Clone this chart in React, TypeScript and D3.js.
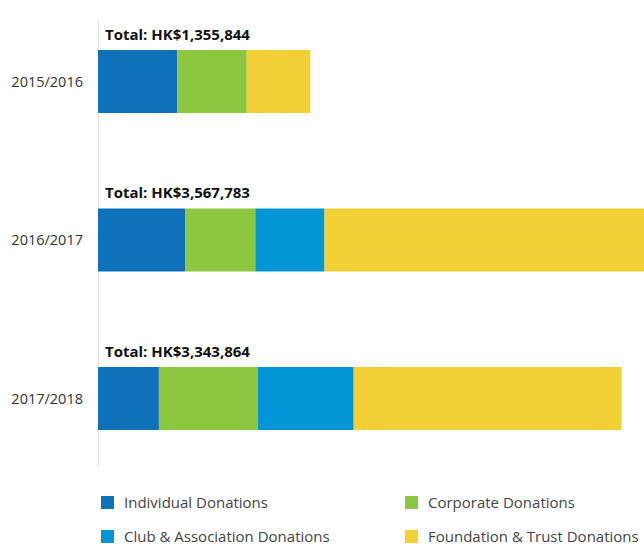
import React from 'react';
import * as d3 from 'd3';

// values (HK$)
const years = ['2015/2016', '2016/2017', '2017/2018'];
const totals = [1355844, 3567783, 3343864];
const individual = [506000, 556800, 389000];
const corporate = [444000, 448000, 632000];
const club = [0, 441600, 612000];
const foundation = [405844, 2121383, 1710864];

const seriesNames = [
    'Individual Donations',
    'Corporate Donations',
    'Club & Association Donations',
    'Foundation & Trust Donations',
];
const seriesColors = ['#0f71ba', '#8dc63f', '#0396d6', '#f3d136'];

const W = 644;
const H = 547;

export default function App() {
    const rows = years.map((y, i) => ({
        year: y,
        total: totals[i],
        Individual: individual[i],
        Corporate: corporate[i],
        Club: club[i],
        Foundation: foundation[i],
    }));
    const keys = ['Individual', 'Corporate', 'Club', 'Foundation'];
    const stacked = d3.stack<any>().keys(keys)(rows);

    const x = d3.scaleLinear().domain([0, 3500000]).range([98, 646]);
    const y = d3.scaleBand().domain(years).range([50, 430]).paddingInner(0.6025).paddingOuter(0);

    const fmt = d3.format(',');

    return (
        <svg width={W} height={H} style={{ position: 'absolute', left: 0, top: 0, background: '#fff' }}
            fontFamily="'Open Sans', 'DejaVu Sans', sans-serif">
            <line x1={98.5} x2={98.5} y1={20} y2={467} stroke="#e2e2e2" strokeWidth={1} />
            {stacked.map((s, si) => (
                <g key={s.key} fill={seriesColors[si]}>
                    {s.map((d, i) => (
                        <rect key={i} x={x(d[0])} y={y(years[i])!} width={Math.max(0, x(d[1]) - x(d[0]))}
                            height={y.bandwidth()} />
                    ))}
                </g>
            ))}
            {rows.map(r => (
                <g key={r.year}>
                    <text x={83} y={y(r.year)! + y.bandwidth() / 2} dy="0.35em" textAnchor="end"
                        fontSize={14.5} fill="#333">{r.year}</text>
                    <text x={105} y={y(r.year)! - 10} fontSize={15} fontWeight="bold" fill="#111">
                        Total: HK${fmt(r.total)}
                    </text>
                </g>
            ))}
            {seriesNames.map((n, i) => {
                const col = i % 2;
                const row = Math.floor(i / 2);
                const lx = col === 0 ? 101 : 405;
                const ly = row === 0 ? 496 : 530;
                return (
                    <g key={n}>
                        <rect x={lx} y={ly} width={13} height={13} fill={seriesColors[i]} />
                        <text x={lx + 23} y={ly + 6.5} dy="0.35em" fontSize={15} fill="#444">{n}</text>
                    </g>
                );
            })}
        </svg>
    );
}
